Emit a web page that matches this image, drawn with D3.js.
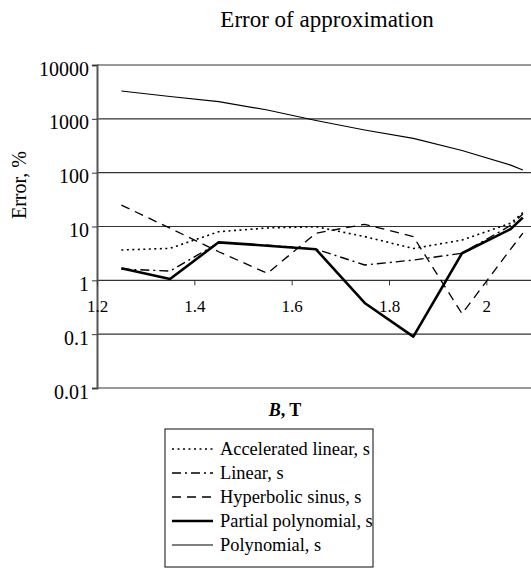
<!DOCTYPE html>
<html>
<head>
<meta charset="utf-8">
<script src="https://cdn.jsdelivr.net/npm/d3@7"></script>
<style>
  body { margin: 0; background: #fff; }
  svg { display: block; font-family: "Liberation Serif", "Times New Roman", serif; }
  svg text { font-family: "Liberation Serif", "Times New Roman", serif; }
</style>
</head>
<body>
<div id="chart"></div>
<script>
const bValues = [1.25, 1.35, 1.45, 1.55, 1.65, 1.75, 1.85, 1.95, 2.05, 2.075];
const acceleratedLinear = [3.66, 3.93, 8.0, 9.4, 9.9, 6.5, 3.9, 5.6, 11.5, 18.1];
const linear = [1.62, 1.49, 5.0, 4.5, 3.8, 1.93, 2.38, 3.18, 10.5, 17];
const hyperbolicSinus = [25, 9.3, 3.4, 1.35, 7.5, 11, 6.5, 0.24, 3.8, 7.5];
const partialPolynomial = [1.67, 1.06, 5.08, 4.4, 3.77, 0.38, 0.09, 3.18, 8.98, 14.6];
const polynomial = [3290, 2600, 2080, 1460, 930, 620, 432, 258, 138, 112];
const seriesNames = ["Accelerated linear, s", "Linear, s", "Hyperbolic sinus, s",
                     "Partial polynomial, s", "Polynomial, s"];
const yTicks = [10000, 1000, 100, 10, 1, 0.1, 0.01];
const xTicks = [1.2, 1.4, 1.6, 1.8, 2.0];

const W = 531, H = 584;
const plot = {left: 97, right: 535, top: 65, bottom: 388};

const svg = d3.select("#chart").append("svg")
  .attr("width", W).attr("height", H);

const x = d3.scaleLinear().domain([1.2, 2.1]).range([plot.left, plot.right]);
const y = d3.scaleLog().domain([0.01, 10000]).range([plot.bottom, plot.top]);

// title
svg.append("text")
  .attr("x", 327).attr("y", 27)
  .attr("text-anchor", "middle")
  .style("font-size", "23px")
  .text("Error of approximation");

// horizontal gridlines
svg.append("g")
  .selectAll("line")
  .data(yTicks)
  .enter().append("line")
  .attr("x1", plot.left).attr("x2", plot.right)
  .attr("y1", d => y(d)).attr("y2", d => y(d))
  .attr("stroke", "#333").attr("stroke-width", 1.2);

// y axis
const yAxis = svg.append("g")
  .attr("transform", `translate(${plot.left},0)`)
  .call(d3.axisLeft(y).tickValues(yTicks).tickFormat(d => String(d)).tickSize(5).tickPadding(3));
yAxis.attr("font-family", null);
yAxis.select(".domain").attr("stroke", "#555").attr("stroke-width", 2);
yAxis.selectAll(".tick line").attr("stroke", "#333");
yAxis.selectAll("text")
  .attr("fill", "#000")
  .attr("dy", "0.65em")
  .attr("y", -3)
  .style("font-size", "20px");

// x axis crossing at 1
const xAxis = svg.append("g")
  .attr("transform", `translate(0,${y(1)})`)
  .call(d3.axisBottom(x).tickValues(xTicks).tickFormat(d => d3.format("~g")(d)).tickSize(5).tickPadding(15));
xAxis.attr("font-family", null);
xAxis.select(".domain").remove();
xAxis.selectAll(".tick line").attr("stroke", "#333");
xAxis.selectAll("text")
  .attr("fill", "#000")
  .style("font-size", "17px");

// y axis title
svg.append("text")
  .attr("transform", "translate(26,185) rotate(-90)")
  .attr("text-anchor", "middle")
  .style("font-size", "20px")
  .text("Error, %");

// x axis title
const xt = svg.append("text")
  .attr("x", 285).attr("y", 416)
  .attr("text-anchor", "middle")
  .style("font-size", "18px")
  .style("font-weight", "bold");
xt.append("tspan").style("font-style", "italic").text("B");
xt.append("tspan").text(", T");

const styles = [
  {data: acceleratedLinear, width: 1.6, dash: "2,3.5"},
  {data: linear, width: 1.4, dash: "9,4,2,4"},
  {data: hyperbolicSinus, width: 1.3, dash: "9,6"},
  {data: partialPolynomial, width: 2.6, dash: null},
  {data: polynomial, width: 1.2, dash: null}
];

const line = d3.line()
  .x((d, i) => x(bValues[i]))
  .y(d => y(d));

svg.append("g")
  .selectAll("path")
  .data(styles)
  .enter().append("path")
  .attr("d", d => line(d.data))
  .attr("fill", "none")
  .attr("stroke", "#000")
  .attr("stroke-width", d => d.width)
  .attr("stroke-dasharray", d => d.dash)
  .attr("stroke-linejoin", "round");

// legend
const leg = svg.append("g").attr("transform", "translate(165,429)");
leg.append("rect")
  .attr("x", 0).attr("y", 0)
  .attr("width", 208).attr("height", 138)
  .attr("fill", "#fff").attr("stroke", "#333").attr("stroke-width", 1.2);

const rows = leg.selectAll(".row")
  .data(styles)
  .enter().append("g")
  .attr("class", "row")
  .attr("transform", (d, i) => `translate(0,${20 + i * 24})`);
rows.append("line")
  .attr("x1", 7).attr("x2", 48)
  .attr("stroke", "#000")
  .attr("stroke-width", d => d.width)
  .attr("stroke-dasharray", d => d.dash);
rows.append("text")
  .attr("x", 55).attr("y", 6)
  .style("font-size", "18.4px")
  .text((d, i) => seriesNames[i]);
</script>
</body>
</html>
